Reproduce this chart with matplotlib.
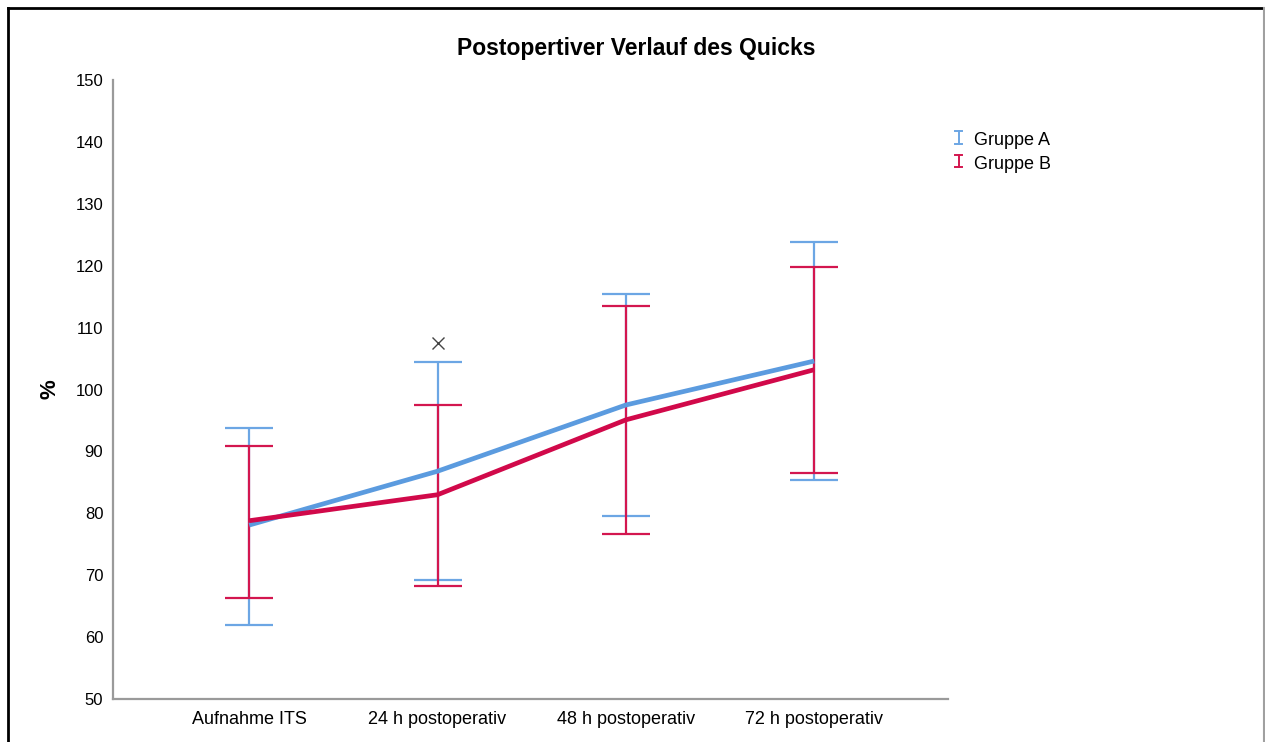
import matplotlib
matplotlib.use("Agg")
import matplotlib.pyplot as plt
from matplotlib.lines import Line2D
from matplotlib.legend_handler import HandlerBase

plt.rcParams['font.family'] = ['Liberation Sans', 'DejaVu Sans']

categories = ["Aufnahme ITS", "24 h postoperativ", "48 h postoperativ", "72 h postoperativ"]
group_names = ["Gruppe A", "Gruppe B"]

mean_a = [78.1, 86.8, 97.5, 104.6]
low_a = [62.0, 69.2, 79.6, 85.4]
high_a = [93.8, 104.4, 115.4, 123.8]

mean_b = [78.8, 83.0, 95.1, 103.2]
low_b = [66.3, 68.3, 76.7, 86.5]
high_b = [90.9, 97.5, 113.5, 119.8]

outlier_pos = [1]
outlier_val = [107.5]

y_ticks = list(range(50, 151, 10))

blue_line = "#5B9BDF"
blue_bar = "#6CA6E4"
red_line = "#D1094A"
red_bar = "#D3164F"
spine_col = "#9A9A9A"

fig = plt.figure(figsize=(12.65, 7.42), dpi=100)
ax = fig.add_axes([113 / 1265, 1 - 699 / 742, (948 - 113) / 1265, (699 - 80) / 742])

x = list(range(len(categories)))

def draw_bars(means, lows, highs, col, z):
    err = [[m - l for m, l in zip(means, lows)], [h - m for m, h in zip(means, highs)]]
    ax.errorbar(x, means, yerr=err, fmt='none', ecolor=col, elinewidth=1.6,
                capsize=17, capthick=1.6, zorder=z)

draw_bars(mean_a, low_a, high_a, blue_bar, 2)
draw_bars(mean_b, low_b, high_b, red_bar, 3)
ax.plot(x, mean_a, color=blue_line, lw=3.4, zorder=4, solid_capstyle='butt')
ax.plot(x, mean_b, color=red_line, lw=3.4, zorder=5, solid_capstyle='butt')
ax.plot(outlier_pos, outlier_val, linestyle='none', marker='x', ms=9, mew=1.0,
        color="#444444", zorder=6)

ax.set_xlim(-0.723, 3.71)
ax.set_ylim(50, 150)
ax.set_yticks(y_ticks)
ax.set_xticks(x)
ax.set_xticklabels(categories, fontsize=13)
ax.tick_params(axis='y', length=0, pad=7, labelsize=12)
ax.tick_params(axis='x', length=0, pad=9)
for side in ('top', 'right'):
    ax.spines[side].set_visible(False)
for side in ('left', 'bottom'):
    ax.spines[side].set_color(spine_col)
    ax.spines[side].set_linewidth(1.6)

ax.set_ylabel("%", fontsize=16, fontweight='bold', labelpad=11)

fig.text(636 / 1265, 1 - 48 / 742, "Postopertiver Verlauf des Quicks",
         ha='center', va='center', fontsize=16.5, fontweight='bold')


class HandlerIBar(HandlerBase):
    def create_artists(self, legend, orig_handle, xdescent, ydescent, width, height, fontsize, trans):
        col = orig_handle.get_color()
        cx = width / 2 - xdescent
        y0 = -ydescent + 1
        y1 = height - ydescent + 1
        half = 2.5
        lw = 1.4
        return [
            Line2D([cx, cx], [y0, y1], color=col, lw=lw, transform=trans),
            Line2D([cx - half, cx + half], [y0, y0], color=col, lw=lw, transform=trans),
            Line2D([cx - half, cx + half], [y1, y1], color=col, lw=lw, transform=trans),
        ]


handles = [Line2D([], [], color=blue_bar), Line2D([], [], color=red_bar)]
fig.legend(handles, group_names, loc='upper left',
           bbox_to_anchor=(938 / 1265, 1 - 116 / 742), frameon=False,
           fontsize=13, handlelength=0.5, handletextpad=0.6, labelspacing=0.35,
           handler_map={Line2D: HandlerIBar()})

# outer frame
fig.add_artist(Line2D([8 / 1265, 1], [1 - 8 / 742, 1 - 8 / 742], color='black', lw=2,
                      transform=fig.transFigure))
fig.add_artist(Line2D([8 / 1265, 8 / 1265], [0, 1 - 8 / 742], color='black', lw=2,
                      transform=fig.transFigure))
fig.add_artist(Line2D([1263.5 / 1265, 1263.5 / 1265], [0, 1 - 8 / 742], color='#A0A0A0', lw=1.5,
                      transform=fig.transFigure))

fig.savefig("out.png", dpi=100)
